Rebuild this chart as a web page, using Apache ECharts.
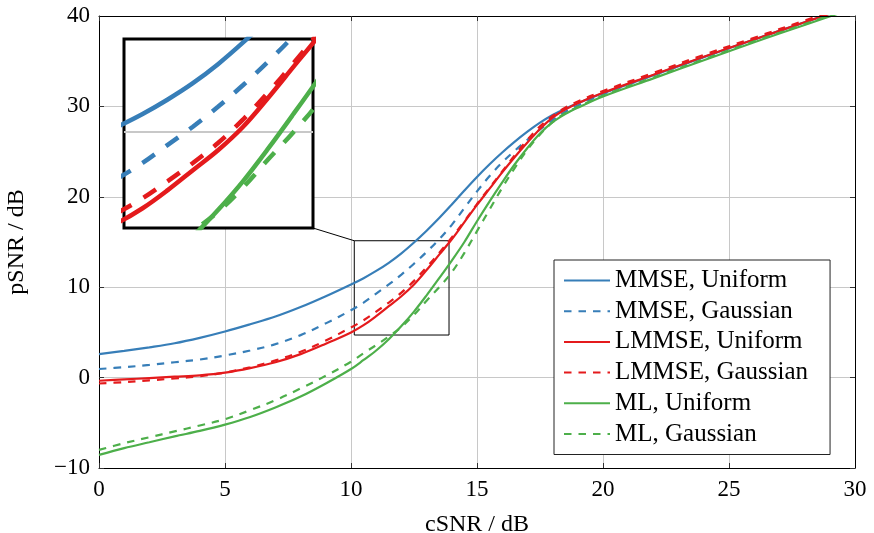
<!DOCTYPE html>
<html>
<head>
<meta charset="utf-8">
<script src="https://cdn.jsdelivr.net/npm/echarts@6/dist/echarts.min.js"></script>
<style>
  html, body { margin: 0; padding: 0; background: #fff; }
  #chart { width: 874px; height: 533px; }
</style>
</head>
<body>
<div id="chart"></div>
<script>
// Channel SNR (dB) sample points
const cSNR = [0, 1, 2, 3, 4, 5, 6, 7, 8, 9, 10, 10.5, 11, 11.5, 12, 12.5, 13, 13.5, 14, 14.5,
              15, 15.5, 16, 16.5, 17, 17.5, 18, 18.5, 19, 20, 22, 24, 26, 28, 30];

// Parameter SNR (dB) per estimator / prior
const mmseUniform   = [2.6, 2.95, 3.35, 3.8, 4.4, 5.1, 5.9, 6.75, 7.8, 9.0, 10.3, 11.0, 11.8, 12.7, 13.75, 14.95, 16.25, 17.65, 19.15, 20.7,
                       22.2, 23.6, 24.9, 26.1, 27.2, 28.2, 29.05, 29.75, 30.35, 31.45, 33.45, 35.45, 37.4, 39.3, 41.2];
const mmseGaussian  = [0.95, 1.15, 1.4, 1.7, 2.0, 2.45, 3.0, 3.7, 4.7, 6.0, 7.45, 8.3, 9.3, 10.3, 11.4, 12.6, 13.9, 15.3, 16.9, 18.75,
                       20.6, 22.3, 23.8, 25.1, 26.3, 27.45, 28.5, 29.4, 30.1, 31.35, 33.45, 35.45, 37.4, 39.3, 41.2];
const lmmseUniform  = [-0.35, -0.2, -0.05, 0.1, 0.25, 0.55, 1.05, 1.7, 2.6, 3.75, 5.0, 5.8, 6.8, 7.9, 9.0, 10.3, 11.9, 13.6, 15.3, 17.2,
                       19.1, 20.9, 22.7, 24.4, 26.0, 27.5, 28.75, 29.65, 30.35, 31.5, 33.5, 35.5, 37.4, 39.3, 41.2];
const lmmseGaussian = [-0.65, -0.5, -0.3, -0.1, 0.15, 0.55, 1.15, 1.9, 2.85, 4.1, 5.55, 6.35, 7.3, 8.3, 9.4, 10.7, 12.2, 13.8, 15.5, 17.3,
                       19.2, 21.0, 22.8, 24.6, 26.3, 27.8, 28.95, 29.85, 30.55, 31.7, 33.7, 35.7, 37.6, 39.5, 41.4];
const mlUniform     = [-8.55, -7.8, -7.15, -6.5, -5.9, -5.2, -4.35, -3.3, -2.1, -0.65, 0.95, 1.95, 3.0, 4.25, 5.7, 7.3, 9.1, 11.0, 12.95, 15.0,
                       17.3, 19.5, 21.6, 23.6, 25.4, 27.0, 28.25, 29.15, 29.85, 31.1, 33.1, 35.1, 37.1, 39.0, 40.9];
const mlGaussian    = [-8.0, -7.25, -6.6, -5.95, -5.3, -4.6, -3.6, -2.5, -1.2, 0.2, 1.76, 2.7, 3.6, 4.55, 5.6, 6.95, 8.5, 10.0, 11.65, 13.8,
                       16.2, 18.6, 21.0, 23.2, 25.2, 26.9, 28.25, 29.25, 29.95, 31.2, 33.2, 35.2, 37.2, 39.1, 41.0];

const seriesNames = ['MMSE, Uniform', 'MMSE, Gaussian', 'LMMSE, Uniform', 'LMMSE, Gaussian', 'ML, Uniform', 'ML, Gaussian'];

// Magnified window (data units)
const zoomX = [10.13, 13.89];
const zoomY = [4.71, 15.14];
const zoomGridValue = 10;

const FONT = 'Liberation Serif';
const BLUE = '#377eb8', RED = '#e41a1c', GREEN = '#4daf4a';

const curves = [
  { name: seriesNames[0], values: mmseUniform,   color: BLUE,  dashed: false },
  { name: seriesNames[1], values: mmseGaussian,  color: BLUE,  dashed: true  },
  { name: seriesNames[2], values: lmmseUniform,  color: RED,   dashed: false },
  { name: seriesNames[3], values: lmmseGaussian, color: RED,   dashed: true  },
  { name: seriesNames[4], values: mlUniform,     color: GREEN, dashed: false },
  { name: seriesNames[5], values: mlGaussian,    color: GREEN, dashed: true  }
];

const pairs = v => cSNR.map((x, i) => [x, v[i]]);

function lineSeries(c, axisIdx, width, dash, z) {
  return {
    type: 'line',
    name: c.name,
    xAxisIndex: axisIdx,
    yAxisIndex: axisIdx,
    data: pairs(c.values),
    symbol: 'none',
    showSymbol: false,
    smooth: 0.35,
    clip: true,
    z: z,
    lineStyle: { color: c.color, width: width, type: c.dashed ? dash : 'solid', cap: 'butt' },
    itemStyle: { color: c.color },
    emphasis: { disabled: true }
  };
}

const mainSeries = curves.map(c => lineSeries(c, 0, 2.2, [7.5, 7], 3));
const insetSeries = curves.map(c => lineSeries(c, 1, 4.5, [15, 14], 12));

// rectangle marking the magnified window
mainSeries[0].markArea = {
  silent: true,
  itemStyle: { color: 'rgba(0,0,0,0)', borderColor: '#000', borderWidth: 1 },
  data: [[{ coord: [zoomX[0], zoomY[0]] }, { coord: [zoomX[1], zoomY[1]] }]]
};

// grid line inside the magnified view, kept under the magnified curves
insetSeries[0].markLine = {
  silent: true,
  z: 8,
  symbol: 'none',
  animation: false,
  label: { show: false },
  lineStyle: { color: '#c8c8c8', width: 2, type: 'solid' },
  data: [{ yAxis: zoomGridValue }]
};

const tickLabel = { fontFamily: FONT, fontSize: 23, color: '#000' };
const gridLine = { show: true, showMinLine: false, showMaxLine: false, lineStyle: { color: '#c8c8c8', width: 1 } };
const frameLine = { show: true, onZero: false, lineStyle: { color: '#000', width: 1 } };
const innerTick = { show: true, inside: true, length: 5, lineStyle: { color: '#333', width: 1 } };
const minusFmt = v => (v < 0 ? '\u2212' + (-v) : String(v));

const chart = echarts.init(document.getElementById('chart'), null, { renderer: 'canvas' });

chart.setOption({
  animation: false,
  backgroundColor: '#fff',
  grid: [
    { left: 99, right: 19, top: 16, bottom: 65, show: false, outerBoundsMode: 'none', containLabel: false },
    { left: 124, top: 39, width: 189, height: 189, show: true, z: 6, outerBoundsMode: 'none',
      backgroundColor: '#fff', borderColor: '#000', borderWidth: 3 }
  ],
  xAxis: [
    { type: 'value', gridIndex: 0, min: 0, max: 30, interval: 5, position: 'bottom',
      axisLine: frameLine, axisTick: innerTick, splitLine: gridLine,
      axisLabel: Object.assign({ margin: 10 }, tickLabel),
      name: 'cSNR / dB', nameLocation: 'middle', nameGap: 45,
      nameTextStyle: { fontFamily: FONT, fontSize: 24, color: '#000' } },
    { type: 'value', gridIndex: 1, min: zoomX[0], max: zoomX[1], show: false },
    { type: 'value', gridIndex: 0, min: 0, max: 30, interval: 5, position: 'top', z: 4,
      axisLine: frameLine, axisTick: innerTick, axisLabel: { show: false }, splitLine: { show: false } }
  ],
  yAxis: [
    { type: 'value', gridIndex: 0, min: -10, max: 40, interval: 10, position: 'left',
      axisLine: frameLine, axisTick: innerTick, splitLine: gridLine,
      axisLabel: Object.assign({ margin: 9, formatter: minusFmt }, tickLabel),
      name: 'pSNR / dB', nameLocation: 'middle', nameGap: 70,
      nameTextStyle: { fontFamily: FONT, fontSize: 24, color: '#000' } },
    { type: 'value', gridIndex: 1, min: zoomY[0], max: zoomY[1], show: false },
    { type: 'value', gridIndex: 0, min: -10, max: 40, interval: 10, position: 'right', z: 4,
      axisLine: frameLine, axisTick: innerTick, axisLabel: { show: false }, splitLine: { show: false } }
  ],
  legend: {
    orient: 'vertical',
    left: 554,
    top: 260,
    padding: [8, 22, 8, 9],
    itemWidth: 46,
    itemHeight: 14,
    itemGap: 5.7,
    backgroundColor: '#fff',
    borderColor: '#222',
    borderWidth: 1,
    z: 20,
    data: seriesNames,
    itemStyle: { opacity: 0 },
    textStyle: { fontFamily: FONT, fontSize: 25, color: '#000', lineHeight: 25 }
  },
  series: mainSeries.concat(insetSeries)
});

// connector from the magnified view to the marked window
const from = chart.convertToPixel({ gridIndex: 1 }, [zoomX[1], zoomY[0]]);
const to = chart.convertToPixel({ gridIndex: 0 }, [zoomX[0], zoomY[1]]);
chart.setOption({
  graphic: [{
    type: 'line', z: 15, silent: true,
    shape: { x1: from[0], y1: from[1], x2: to[0], y2: to[1] },
    style: { stroke: '#000', lineWidth: 1 }
  }]
});
</script>
</body>
</html>
